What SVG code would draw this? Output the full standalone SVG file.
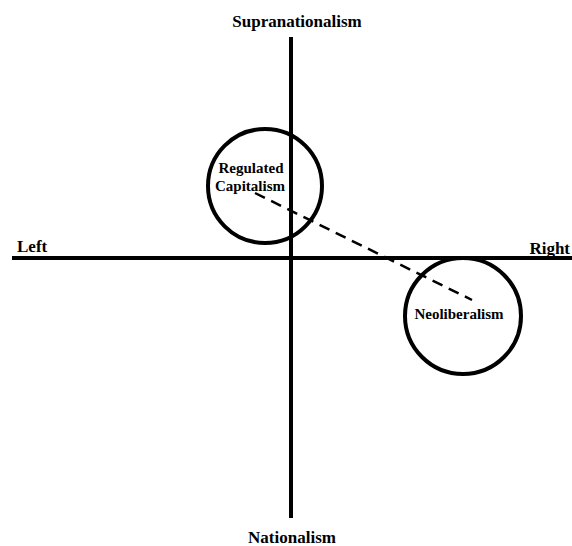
<svg xmlns="http://www.w3.org/2000/svg" width="572" height="546" viewBox="0 0 572 546">
<style>
.t{font-family:"Liberation Serif","Times New Roman",serif;font-weight:bold;fill:#000}
.ax{font-size:17px}
.lb{font-size:15px}
.axis{stroke:#000;stroke-width:4;fill:none}
.c{stroke:#000;stroke-width:4;fill:none}
.d{stroke:#000;stroke-width:2.5;stroke-dasharray:11,7;fill:none}
</style>
<rect width="572" height="546" fill="#fff"/>
<g id="connectors">
<line class="axis" x1="291" y1="37" x2="291" y2="518"/>
<line class="axis" x1="12" y1="258" x2="572" y2="258"/>
<line class="d" x1="255" y1="193" x2="472" y2="300"/>
</g>
<g id="supranationalism"><text class="t ax" x="297" y="27" text-anchor="middle">Supranationalism</text></g>
<g id="nationalism"><text class="t ax" x="292" y="543" text-anchor="middle">Nationalism</text></g>
<g id="left"><text class="t ax" x="17" y="252">Left</text></g>
<g id="right"><text class="t ax" x="570" y="254" text-anchor="end">Right</text></g>
<g id="regulated-capitalism">
<circle class="c" cx="265" cy="186" r="57"/>
<text class="t lb" x="251" y="173" text-anchor="middle">Regulated</text>
<text class="t lb" x="250" y="191" text-anchor="middle">Capitalism</text>
</g>
<g id="neoliberalism">
<circle class="c" cx="463" cy="316" r="58"/>
<text class="t lb" x="459" y="319" text-anchor="middle">Neoliberalism</text>
</g>
</svg>
